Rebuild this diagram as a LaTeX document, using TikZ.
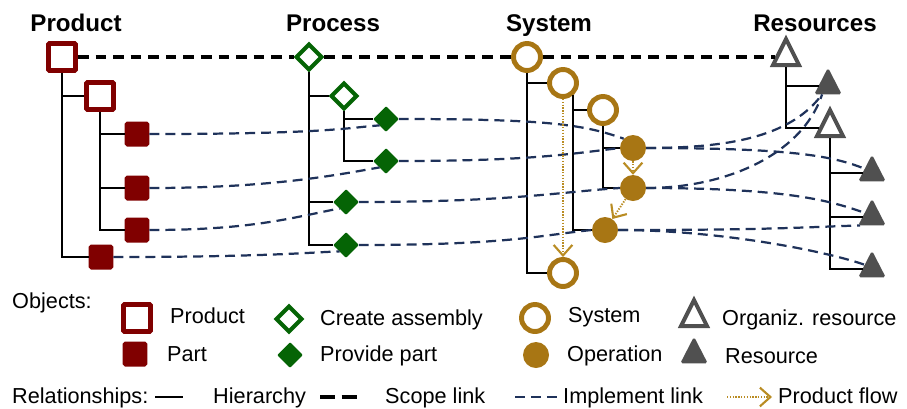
\documentclass[tikz,border=0pt]{standalone}
\usepackage{fontspec}
\setmainfont{Liberation Sans}
\usetikzlibrary{arrows.meta, shapes.geometric}
\definecolor{prodred}{RGB}{128,0,0}
\definecolor{procgreen}{RGB}{5,100,5}
\definecolor{sysgold}{RGB}{168,118,20}
\definecolor{flowgold}{RGB}{185,140,35}
\definecolor{resgray}{RGB}{80,80,80}
\definecolor{linknavy}{RGB}{31,50,90}
\tikzset{
  prodbox/.style={draw=prodred, fill=white, line width=4.2pt, minimum size=0.81cm, inner sep=0, rounded corners=1pt},
  partbox/.style={draw=prodred, fill=prodred, line width=1.7pt, minimum size=0.69cm, inner sep=0, rounded corners=1.5pt},
  asmdiam/.style={diamond, draw=procgreen, fill=white, line width=3.4pt, minimum width=0.8cm, minimum height=0.8cm, inner sep=0},
  provdiam/.style={diamond, draw=procgreen, fill=procgreen, line width=1.3pt, line join=round, minimum width=0.72cm, minimum height=0.72cm, inner sep=0},
  syscirc/.style={circle, draw=sysgold, fill=white, line width=4.2pt, minimum size=0.81cm, inner sep=0},
  opcirc/.style={circle, fill=sysgold, minimum size=0.78cm, inner sep=0},
  orgtri/.style={isosceles triangle, isosceles triangle stretches, shape border rotate=90, draw=resgray, fill=white, line width=3.4pt, minimum width=0.78cm, minimum height=0.78cm, inner sep=0},
  restri/.style={isosceles triangle, isosceles triangle stretches, shape border rotate=90, draw=resgray, fill=resgray, line width=1.5pt, rounded corners=1pt, minimum width=0.74cm, minimum height=0.72cm, inner sep=0},
  hier/.style={line width=1.7pt},
  scopelink/.style={line width=3pt, dash pattern=on 9pt off 6pt},
  implink/.style={linknavy, line width=1.9pt, dash pattern=on 8.5pt off 5.1pt},
  flow/.style={flowgold, line width=1.6pt, dash pattern=on 1.2pt off 1.2pt, -{Straight Barb[length=9pt,width=16pt,line width=1.8pt]}},
  ttl/.style={anchor=base, inner sep=0, font=\fontsize{20.6}{24}\selectfont\bfseries},
  legtext/.style={anchor=base west, inner sep=0, font=\fontsize{18.5}{22}\selectfont}
}

\begin{document}
\begin{tikzpicture}[x=0.03cm, y=-0.03cm]
    \useasboundingbox (0,0) rectangle (907,408);
    \node[ttl] (ttlprod) at (76,31) {Product};
    \node[ttl] (ttlproc) at (333,31) {Process};
    \node[ttl] (ttlsys) at (549,31) {System};
    \node[ttl] (ttlres) at (815,31) {Resources};

    \node[prodbox] (prod) at (62,57) {};
    \node[prodbox] (sub) at (100,96) {};
    \node[partbox] (pa) at (137,134) {};
    \node[partbox] (pb) at (137,188) {};
    \node[partbox] (pc) at (137,230) {};
    \node[partbox] (pd) at (101,257) {};

    \node[asmdiam] (proc) at (309,57) {};
    \node[asmdiam] (asm) at (344,96) {};
    \node[provdiam] (da) at (386,119) {};
    \node[provdiam] (db) at (386,161) {};
    \node[provdiam] (dc) at (346,202) {};
    \node[provdiam] (dd) at (346,245) {};

    \node[syscirc] (sys) at (527,57) {};
    \node[syscirc] (sysa) at (563,83) {};
    \node[syscirc] (sysb) at (603,110) {};
    \node[syscirc] (sysc) at (563,273) {};
    \node[opcirc] (opa) at (633,148) {};
    \node[opcirc] (opb) at (633,188) {};
    \node[opcirc] (opc) at (605,230) {};

    \node[orgtri] (res) at (786,57) {};
    \node[restri] (ra) at (828,86) {};
    \node[orgtri] (org) at (830,128) {};
    \node[restri] (rb) at (872,173) {};
    \node[restri] (rc) at (872,217) {};
    \node[restri] (rd) at (872,269) {};

    \draw [scopelink] (prod) -- (proc) -- (sys) -- (res);

    \draw [hier] (prod) |- (sub);
    \draw [hier] (prod) |- (pd);
    \draw [hier] (sub) |- (pa);
    \draw [hier] (sub) |- (pb);
    \draw [hier] (sub) |- (pc);
    \draw [hier] (proc) |- (asm);
    \draw [hier] (proc) |- (dc);
    \draw [hier] (proc) |- (dd);
    \draw [hier] (asm) |- (da);
    \draw [hier] (asm) |- (db);
    \draw [hier] (sys) |- (sysa);
    \draw [hier] (sys) |- (sysc);
    \draw [hier] (sysa.-50) |- (sysb);
    \draw [hier] (sysa.-50) |- (opc);
    \draw [hier] (sysb) |- (opa);
    \draw [hier] (sysb) |- (opb);
    \draw [hier] (res) |- (ra);
    \draw [hier] (res) |- (org);
    \draw [hier] (org) |- (rb);
    \draw [hier] (org) |- (rc);
    \draw [hier] (org) |- (rd);

    \draw [implink] (pa.east) .. controls +(180,0) and +(-30,2) .. (da.south west);
    \draw [implink] (pb.east) .. controls +(120,0) and +(-45,8) .. (db.south west);
    \draw [implink] (pc.east) .. controls +(100,0) and +(-50,10) .. (dc.south west);
    \draw [implink] (pd.east) .. controls +(150,0) and +(-30,1) .. (dd.south west);
    \draw [implink] (da.east) .. controls +(150,0) and +(-40,-14) .. (opa.north west);
    \draw [implink] (db.east) .. controls +(130,0) and +(-50,6) .. (opa.west);
    \draw [implink] (dc.east) .. controls +(150,0) and +(-60,4) .. (opb.west);
    \draw [implink] (dd.east) .. controls +(150,0) and +(-50,5) .. (opc.west);
    \draw [implink] (opa.east) .. controls +(90,0) and +(-30,40) .. (ra.235);
    \draw [implink] (opb.east) .. controls +(80,0) and +(-20,60) .. (ra.235);
    \draw [implink] (opa.east) .. controls +(150,0) and +(-30,-12) .. (rb.150);
    \draw [implink] (opb.east) .. controls +(150,0) and +(-30,-10) .. (rc.150);
    \draw [implink] (opc.east) .. controls +(150,0) and +(-60,2) .. (rc.215);
    \draw [implink] (opc.east) .. controls +(100,0) and +(-40,-14) .. (rd.150);

    \draw [flow] (sysa.south) -- (sysc.north);
    \draw [flow] (opa) -- (opb);
    \draw [flow] (opb) -- (opc);

    \node[legtext] (objlbl) at (12,308) {Objects:};
    \node[prodbox] (lgprod) at (137,318) {};
    \node[legtext] (lgprodtxt) at (170,323) {Product};
    \node[partbox] (lgpart) at (135,354) {};
    \node[legtext] (lgparttxt) at (167,361) {Part};
    \node[asmdiam] (lgasm) at (289,319) {};
    \node[legtext] (lgasmtxt) at (320,325) {Create assembly};
    \node[provdiam] (lgprov) at (290,355) {};
    \node[legtext] (lgprovtxt) at (320,361) {Provide part};
    \node[syscirc] (lgsys) at (535,318) {};
    \node[legtext] (lgsystxt) at (568,322) {System};
    \node[opcirc] (lgop) at (536,355) {};
    \node[legtext] (lgoptxt) at (567,361) {Operation};
    \node[orgtri] (lgorg) at (694,318) {};
    \node[legtext] (lgorgtxt) at (722,325) {Organiz. resource};
    \node[restri] (lgres) at (694,355) {};
    \node[legtext] (lgrestxt) at (725,363) {Resource};

    \node[legtext] (rellbl) at (12,403) {Relationships:};
    \coordinate (hiera) at (155,397);
    \coordinate (hierb) at (183,397);
    \draw [hier] (hiera) -- (hierb);
    \node[legtext] (hiertxt) at (213,403) {Hierarchy};
    \coordinate (scopea) at (320,397);
    \coordinate (scopeb) at (357,397);
    \draw [scopelink, dash pattern=on 13pt off 5.5pt] (scopea) -- (scopeb);
    \node[legtext] (scopetxt) at (385,403) {Scope link};
    \coordinate (impa) at (515,397);
    \coordinate (impb) at (557,397);
    \draw [implink] (impa) -- (impb);
    \node[legtext] (imptxt) at (563,403) {Implement link};
    \coordinate (flowa) at (727,397);
    \coordinate (flowb) at (772,397);
    \draw [flow] (flowa) -- (flowb);
    \node[legtext] (flowtxt) at (778,403) {Product flow};
\end{tikzpicture}
\end{document}
